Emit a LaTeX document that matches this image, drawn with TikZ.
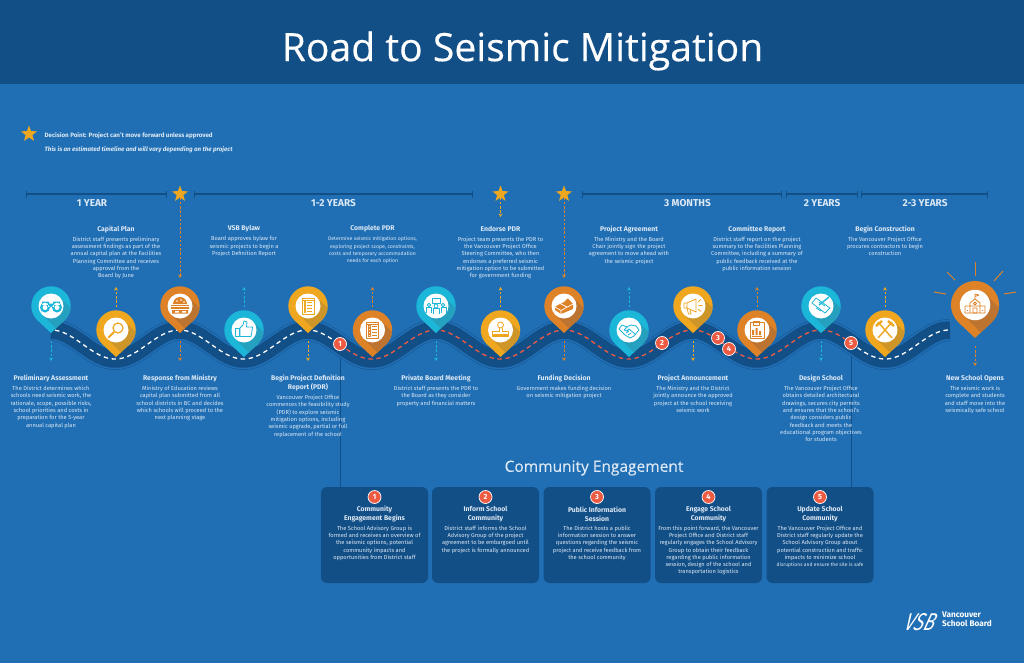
\documentclass[tikz,border=0pt]{standalone}
\usepackage{fontspec}
\setmainfont{Fira Sans}
\newfontfamily\titlefont[FakeBold=0.25]{Open Sans}
\usetikzlibrary{arrows.meta,shapes.geometric}

\definecolor{pagebg}{HTML}{206FB5}
\definecolor{navy}{HTML}{134F87}
\definecolor{roadline}{HTML}{185A98}
\definecolor{paletext}{HTML}{DCE8F4}
\definecolor{cyanpin}{HTML}{1CB6D8}
\definecolor{cyanshade}{HTML}{25A1BF}
\definecolor{yellowpin}{HTML}{EFA720}
\definecolor{yellowshade}{HTML}{CE9528}
\definecolor{orangepin}{HTML}{DE8227}
\definecolor{orangeshade}{HTML}{BE7431}
\definecolor{badgered}{HTML}{EE5B43}

\tikzset{
  steptitle/.style={text=paletext, align=center, inner sep=0pt, font=\fontsize{6.85}{8.8}\selectfont\bfseries},
  stepbody/.style={text=paletext, align=center, inner sep=0pt, anchor=north, font=\fontsize{5.7}{7.3}\selectfont},
  tightbody/.style={stepbody, font=\fontsize{5.15}{7.3}\selectfont},
  yearlabel/.style={text=paletext, inner sep=0pt, font=\fontsize{10}{11}\selectfont\bfseries},
  starmark/.style={star, star points=5, star point ratio=2.4, fill=yellowpin, minimum size=17pt, inner sep=0pt},
  spanbar/.style={navy, line width=1.3pt, {Bar[width=7pt,length=1pt]}-{Bar[width=7pt,length=1pt]}},
  flowarrow/.style={line width=.9pt, dash pattern=on 2.4pt off 1.8pt, -{Stealth[length=3.6pt,width=4pt]}},
  numbadge/.style={circle, fill=badgered, draw=white, line width=.7pt, text=white, minimum size=13pt, inner sep=0pt, font=\fontsize{7.4}{7.4}\selectfont\bfseries},
  cardbox/.style={rounded corners=6pt, fill=navy, minimum width=107pt, minimum height=96pt, inner sep=0pt},
  icon/.style={line width=.8pt, line join=round},
  raymark/.style={orangepin, line width=1pt},
}

% teardrop marker: name, x, y, colour, shade colour, scale
\newcommand{\pinmark}[6]{
  \begin{scope}[shift={(#2,#3)}, scale=#6]
    \coordinate (#1) at (0,0);
    \coordinate (#1tip) at (0,-27);
    \begin{scope}
      \clip (0,-27) -- (-45:19.7) arc (-45:225:19.7) -- cycle;
      \fill[#4] (-30,-30) rectangle (30,30);
      \fill[#5] (45:12.5) -- ++(-45:40) -- ++(-135:25) -- ++(135:40) -- cycle;
    \end{scope}
    \fill[white] (0,0) circle (12.5);
  \end{scope}
}

\begin{document}
\begin{tikzpicture}[x=1pt, y=1pt]
  \useasboundingbox (0,0) rectangle (1024,-663);
  \fill[pagebg] (0,0) rectangle (1024,-663);
  \fill[navy] (0,0) rectangle (1024,-84);
  \node (maintitle) [text=white, inner sep=0pt, font=\titlefont\fontsize{39.1}{42}\selectfont] at (522.5,-51) {Road to Seismic Mitigation};

  % legend
  \node (legendstar) [starmark] at (29,-134) {};
  \node (legendone) [anchor=west, inner sep=0pt, text=paletext, font=\fontsize{6.2}{7}\selectfont\bfseries] at (44.5,-135.5) {Decision Point: Project can't move forward unless approved};
  \node (legendtwo) [anchor=west, inner sep=0pt, text=paletext, font=\fontsize{6.2}{7}\selectfont\bfseries\itshape] at (44.5,-149.5) {This is an estimated timeline and will vary depending on the project};

  % time spans
  \draw[spanbar] (26,-194) -- (167,-194);
  \draw[spanbar] (193.5,-194) -- (473,-194);
  \draw[spanbar] (582,-194) -- (782,-194);
  \draw[spanbar] (786,-194) -- (858,-194);
  \draw[spanbar] (861,-194) -- (988,-194);
  \node (year1) [yearlabel] at (92,-203.5) {1 YEAR};
  \node (year2) [yearlabel] at (333.5,-203.5) {1-2 YEARS};
  \node (year3) [yearlabel] at (687.5,-203.5) {3 MONTHS};
  \node (year4) [yearlabel] at (822,-203.5) {2 YEARS};
  \node (year5) [yearlabel] at (925,-203.5) {2-3 YEARS};
  \node (star1) [starmark] at (180,-194) {};
  \node (star2) [starmark] at (500.5,-194) {};
  \node (star3) [starmark] at (564,-194) {};

  % community lines, under the road
  \node (card1) [cardbox] at (374.5,-535) {};
  \node (card2) [cardbox] at (485.5,-535) {};
  \node (card3) [cardbox] at (597,-535) {};
  \node (card4) [cardbox] at (708.5,-535) {};
  \node (card5) [cardbox] at (820,-535) {};
  \coordinate (road1) at (340,-344);
  \coordinate (road5) at (851,-343);
  \draw[navy, line width=.9pt] (road1) -- (road1 |- card1.north);
  \draw[navy, line width=.9pt] (road5) -- (road5 |- card5.north);

  % road
  \def\roadwave{plot[samples=400] (\x,{-344.5+14.5*cos((\x-51)*2.8053)})}
  \draw[roadline, line width=22pt, domain=51:950] \roadwave;
  \draw[pagebg, line width=20.6pt, domain=51:950] \roadwave;
  \draw[navy, line width=17.5pt, domain=51:950] \roadwave;
  \draw[white, line width=1.3pt, dash pattern=on 4.4pt off 3.6pt, domain=55:340] \roadwave;
  \draw[badgered, line width=1.3pt, dash pattern=on 4.4pt off 3.6pt, domain=340:851] \roadwave;
  \draw[white, line width=1.3pt, dash pattern=on 4.4pt off 3.6pt, domain=851:950] \roadwave;

  % markers
  \pinmark{p1}{51}{-306}{cyanpin}{cyanshade}{1}
  \pinmark{p2}{116}{-330}{yellowpin}{yellowshade}{1}
  \pinmark{p3}{180}{-306}{orangepin}{orangeshade}{1}
  \pinmark{p4}{244}{-330}{cyanpin}{cyanshade}{1}
  \pinmark{p5}{308}{-306}{yellowpin}{yellowshade}{1}
  \pinmark{p6}{372.5}{-330}{orangepin}{orangeshade}{1}
  \pinmark{p7}{436}{-306}{cyanpin}{cyanshade}{1}
  \pinmark{p8}{500.5}{-330}{yellowpin}{yellowshade}{1}
  \pinmark{p9}{564}{-306}{orangepin}{orangeshade}{1}
  \pinmark{p10}{629}{-330}{cyanpin}{cyanshade}{1}
  \pinmark{p11}{693}{-306}{yellowpin}{yellowshade}{1}
  \pinmark{p12}{757}{-330}{orangepin}{orangeshade}{1}
  \pinmark{p13}{821}{-306}{cyanpin}{cyanshade}{1}
  \pinmark{p14}{885}{-330}{yellowpin}{yellowshade}{1}
  \pinmark{p15}{975}{-305}{orangepin}{orangeshade}{1.22}

  % sun rays
  \draw[raymark] (975,-262) -- (975,-276);
  \draw[raymark] (947,-272) -- (955,-280);
  \draw[raymark] (1003,-271) -- (994,-281);
  \draw[raymark] (934,-292) -- (946,-294);
  \draw[raymark] (1016,-292) -- (1004,-294);

  % dashed arrows
  \foreach \name/\col in {p2/yellowpin, p4/cyanpin, p6/orangepin, p8/yellowpin, p10/cyanpin, p12/orangepin, p14/yellowpin}
    \draw[flowarrow, \col] ([yshift=23pt]\name) -- ([yshift=43pt]\name);
  \foreach \name/\col in {p1/cyanpin, p3/orangepin, p5/yellowpin, p7/cyanpin, p9/orangepin, p11/yellowpin, p13/cyanpin, p15/orangepin}
    \draw[flowarrow, \col] ([yshift=-8pt]\name tip) -- ([yshift=-28pt]\name tip);
  \draw[flowarrow, orangepin] (star1) -- ([yshift=28pt]p3);
  \draw[flowarrow, yellowpin] (star2) -- ([yshift=-23pt]star2.center);
  \draw[flowarrow, orangepin] (star3) -- ([yshift=28pt]p9);

  % icons
  \begin{scope}[shift={(p1)}, cyanpin]
    \fill (-6,-1.5) circle (5) (6,-1.5) circle (5) (-3,-1) rectangle (3,2.5) (-9,1) rectangle (-2,4.5) (2,1) rectangle (9,4.5);
    \fill[white] (-6,-1.5) circle (2.5) (6,-1.5) circle (2.5);
  \end{scope}
  \begin{scope}[shift={(p2)}, yellowpin]
    \draw[line width=1.2pt] (2,2) circle (5);
    \draw[line width=2pt, line cap=round] (-2,-2) -- (-7.5,-7.5);
  \end{scope}
  \begin{scope}[shift={(p3)}, orangepin]
    \fill (-7,2) arc (180:0:7) -- cycle;
    \fill[white] (-3,5) circle (.8) (1,6) circle (.8) (4,4) circle (.8);
    \draw[line width=1pt] (-9,.5) -- (9,.5);
    \fill (-9,-1) rectangle (9,-2.8) (-8,-4) rectangle (8,-7.5);
    \fill[white] (-5,-5) rectangle (-1,-6.5) (2,-5) rectangle (6,-6.5);
  \end{scope}
  \begin{scope}[shift={(p4)}, icon, draw=cyanpin]
    \draw (-9,-6.5) rectangle (-5,2);
    \draw (-4,2) -- (-1,5) -- (0,9) -- (3,8) -- (2.5,3) -- (8.5,3) -- (8,-1) -- (7,-6.5) -- (-4,-6.5) -- cycle;
  \end{scope}
  \begin{scope}[shift={(p5)}, icon, draw=yellowpin]
    \draw (-6,-8) rectangle (6,8);
    \draw (-6,5.5) -- (6,5.5);
    \foreach \yy in {3,0,-3,-6} \draw (-4,\yy) rectangle (-2.5,\yy+1.5) (-1,\yy+.7) -- (4,\yy+.7);
  \end{scope}
  \begin{scope}[shift={(p6)}, icon, draw=orangepin]
    \draw (-6,-8) rectangle (6,8);
    \draw (-6,5.5) -- (6,5.5);
    \foreach \yy in {3,0,-3,-6} \draw (-4,\yy) rectangle (-2.5,\yy+1.5) (-1,\yy+.7) -- (4,\yy+.7);
  \end{scope}
  \begin{scope}[shift={(p7)}, icon, draw=cyanpin]
    \draw (-4,3) rectangle (4,8);
    \draw (0,0) circle (2) (-7,1) circle (1.8) (7,1) circle (1.8);
    \draw (-3,-8) -- (-3,-2) -- (3,-2) -- (3,-8) (-10,-7) -- (-10,-1.5) -- (-5,-1.5) -- (-5,-7) (10,-7) -- (10,-1.5) -- (5,-1.5) -- (5,-7);
  \end{scope}
  \begin{scope}[shift={(p8)}, icon, draw=yellowpin]
    \draw (0,5) circle (3);
    \draw (-1.5,2.3) -- (-1.5,-1) -- (-8,-1) -- (-8,-4) -- (8,-4) -- (8,-1) -- (1.5,-1) -- (1.5,2.3);
    \draw (-8,-6.5) rectangle (8,-5);
  \end{scope}
  \begin{scope}[shift={(p9)}, orangepin]
    \fill (-9,-1) -- (4,7.5) -- (9,2) -- (9,-3) -- (-3,-8) -- (-9,-4) -- cycle;
    \draw[white, line width=.7pt] (-9,-1) -- (-3,-4.5) -- (9,2) (-3,-4.5) -- (-3,-8) (-3,2) -- (3,-1);
    \draw[white, line width=.7pt] (1.5,5.5) -- (-4.5,1.8);
  \end{scope}
  \begin{scope}[shift={(p10)}, icon, draw=cyanpin]
    \draw (-10,1) -- (-7,5) -- (-2,3) -- (2,5) -- (7,4) -- (10,0) -- (5,-6) -- (1,-8) -- (-4,-5) -- cycle;
    \draw (-2,3) -- (-5,0) -- (-2,-1) -- (0,1) -- (6,-4) (-1,-5) -- (2,-3) (-3,-3) -- (0,-1);
  \end{scope}
  \begin{scope}[shift={(p11)}, icon, draw=yellowpin]
    \draw (-9,-2) rectangle (-6,3) (-6,3) -- (3,7) -- (3,-6) -- (-6,-2);
    \draw (-6,-2) -- (-4.5,-8) -- (-2,-8) -- (-3,-3.5);
    \draw (5,4) -- (8,6.5) (5.5,.5) -- (9.5,.5) (5,-3) -- (8,-5.5);
  \end{scope}
  \begin{scope}[shift={(p12)}, icon, draw=orangepin]
    \draw (-7,-8.5) rectangle (7,8);
    \draw (-4,5) rectangle (2,9) (-5,-6) -- (5,-6);
    \fill[orangepin] (-5,-5) rectangle (-3,0) (-1.5,-5) rectangle (.5,2) (2,-5) rectangle (4,-1);
  \end{scope}
  \begin{scope}[shift={(p13)}, icon, draw=cyanpin]
    \draw (-9,3) -- (4,-7) -- (9,-2) -- (-5,8) -- cycle;
    \draw[line width=1.4pt] (8,9) -- (-2,1);
    \draw (-5,-2) -- (0,-5) (-2,4) -- (4,0);
  \end{scope}
  \begin{scope}[shift={(p14)}, yellowpin]
    \draw[line width=1.4pt] (-7,8) -- (7,-8) (7,8) -- (-7,-8);
    \draw[line width=2.4pt] (-9,4) -- (-3,9) (9,4) -- (3,9);
  \end{scope}
  \begin{scope}[shift={(p15)}, icon, draw=orangepin]
    \draw (-10,-8) rectangle (10,-1) (-5,-8) -- (-5,2) -- (0,6) -- (5,2) -- (5,-8);
    \draw (0,6) -- (0,11) (0,11) -- (4,10) -- (0,8.5);
    \draw (-2,-8) rectangle (2,-3) (0,1.5) circle (1.5) (-8,-5.5) -- (-7,-5.5) (7,-5.5) -- (8,-5.5);
  \end{scope}

  % road badges
  \node (b1) [numbadge] at (road1) {1};
  \node (b2) [numbadge] at (662,-343) {2};
  \node (b3) [numbadge] at (718,-338) {3};
  \node (b4) [numbadge] at (729,-349) {4};
  \node (b5) [numbadge] at (road5) {5};

  % texts above the road
  \node (t2) [steptitle] at (116,-229) {Capital Plan};
  \node (d2) [stepbody] at (116,-236.5) {District staff presents preliminary\\assessment findings as part of the\\annual capital plan at the Facilities\\Planning Committee and receives\\approval from the\\Board by June};
  \node (t4) [steptitle] at (244,-229) {VSB Bylaw};
  \node (d4) [stepbody] at (244,-236.5) {Board approves bylaw for\\seismic projects to begin a\\Project Definition Report};
  \node (t6) [steptitle] at (372.5,-229) {Complete PDR};
  \node (d6) [tightbody] at (372.5,-236.5) {Determine seismic mitigation options,\\exploring project scope, constraints,\\costs and temporary accommodation\\needs for each option};
  \node (t8) [steptitle] at (500.5,-229) {Endorse PDR};
  \node (d8) [stepbody] at (500.5,-236.5) {Project team presents the PDR to\\the Vancouver Project Office\\Steering Committee, who then\\endorses a preferred seismic\\mitigation option to be submitted\\for government funding};
  \node (t10) [steptitle] at (629,-229) {Project Agreement};
  \node (d10) [stepbody] at (629,-236.5) {The Ministry and the Board\\Chair jointly sign the project\\agreement to move ahead with\\the seismic project};
  \node (t12) [steptitle] at (757,-229) {Committee Report};
  \node (d12) [stepbody] at (757,-236.5) {District staff report on the project\\summary to the Facilities Planning\\Committee, including a summary of\\public feedback received at the\\public information session};
  \node (t14) [steptitle] at (885,-229) {Begin Construction};
  \node (d14) [stepbody] at (885,-236.5) {The Vancouver Project Office\\procures contractors to begin\\construction};

  % texts below the road
  \node (t1) [steptitle] at (51,-378.5) {Preliminary Assessment};
  \node (d1) [stepbody] at (51,-386) {The District determines which\\schools need seismic work, the\\rationale, scope, possible risks,\\school priorities and costs in\\preparation for the 5-year\\annual capital plan};
  \node (t3) [steptitle] at (180,-378.5) {Response from Ministry};
  \node (d3) [stepbody] at (180,-386) {Ministry of Education reviews\\capital plan submitted from all\\school districts in BC and decides\\which schools will proceed to the\\next planning stage};
  \node (t5) [steptitle] at (308,-383) {Begin Project Definition\\Report (PDR)};
  \node (d5) [stepbody] at (308,-395) {Vancouver Project Office\\commences the feasibility study\\(PDR) to explore seismic\\mitigation options, including\\seismic upgrade,  partial or full\\replacement of the school};
  \node (t7) [steptitle] at (436,-378.5) {Private Board Meeting};
  \node (d7) [stepbody] at (436,-386) {District staff presents the PDR to\\the Board as they consider\\property and financial matters};
  \node (t9) [steptitle] at (564,-378.5) {Funding Decision};
  \node (d9) [stepbody] at (564,-386) {Government  makes funding decision\\on seismic mitigation project};
  \node (t11) [steptitle] at (693,-378.5) {Project Announcement};
  \node (d11) [stepbody] at (693,-386) {The Ministry and the District\\jointly announce the approved\\project at the school receiving\\seismic work};
  \node (t13) [steptitle] at (821,-378.5) {Design School};
  \node (d13) [stepbody] at (821,-386) {The Vancouver Project Office\\obtains detailed architectural\\drawings, secures city permits\\and ensures that the school's\\design considers public\\feedback and meets the\\educational program objectives\\for students};
  \node (t15) [steptitle] at (975,-378.5) {New School Opens};
  \node (d15) [stepbody] at (975,-386) {The seismic work is\\complete and students\\and staff move into the\\seismically safe school};

  % community engagement
  \node (commtitle) [text=paletext, inner sep=0pt, font=\titlefont\fontsize{15.5}{18}\selectfont] at (594,-468) {Community Engagement};
  \node (c1) [numbadge] at (card1.center |- 0,-497) {1};
  \node (c2) [numbadge] at (card2.center |- 0,-497) {2};
  \node (c3) [numbadge] at (card3.center |- 0,-497) {3};
  \node (c4) [numbadge] at (card4.center |- 0,-497) {4};
  \node (c5) [numbadge] at (card5.center |- 0,-497) {5};
  \node (ct1) [steptitle] at (374.5,-514) {Community\\Engagement Begins};
  \node (cd1) [stepbody] at (374.5,-525.5) {The School Advisory Group is\\formed and receives an overview of\\the seismic options, potential\\community impacts and\\opportunities from District staff};
  \node (ct2) [steptitle] at (485.5,-514) {Inform School\\Community};
  \node (cd2) [stepbody] at (485.5,-525.5) {District staff informs the School\\Advisory Group of the project\\agreement to be embargoed until\\the project is formally announced};
  \node (ct3) [steptitle] at (597,-514) {Public Information\\Session};
  \node (cd3) [stepbody] at (597,-525.5) {The District hosts a public\\information session to answer\\questions regarding the seismic\\project and receive feedback from\\the school community};
  \node (ct4) [steptitle] at (708.5,-514) {Engage School\\Community};
  \node (cd4) [stepbody] at (708.5,-525.5) {From this point forward, the Vancouver\\Project Office and District staff\\regularly engages the School Advisory\\Group to obtain their feedback\\regarding the public information\\session, design of the school and\\transportation logistics};
  \node (ct5) [steptitle] at (820,-514) {Update School\\Community};
  \node (cd5) [stepbody] at (820,-525.5) {The Vancouver Project Office and\\District staff regularly update the\\School Advisory Group about\\potential construction and traffic\\impacts to minimize school\\{\fontsize{5}{7.3}\selectfont disruptions and ensure the site is safe}};

  % logo
  \begin{scope}[shift={(921,-622)}, xslant=.35, yscale=1.35, transform shape]
    \node (vsbmark) [text=white, inner sep=0pt, font=\fontsize{18}{18}\selectfont\itshape] at (0,0) {VSB};
  \end{scope}
  \node (vsbname) [anchor=west, text=white, inner sep=0pt, align=left, font=\fontsize{8.2}{9.4}\selectfont\bfseries] at (942,-619.5) {Vancouver\\School Board};
\end{tikzpicture}
\end{document}
